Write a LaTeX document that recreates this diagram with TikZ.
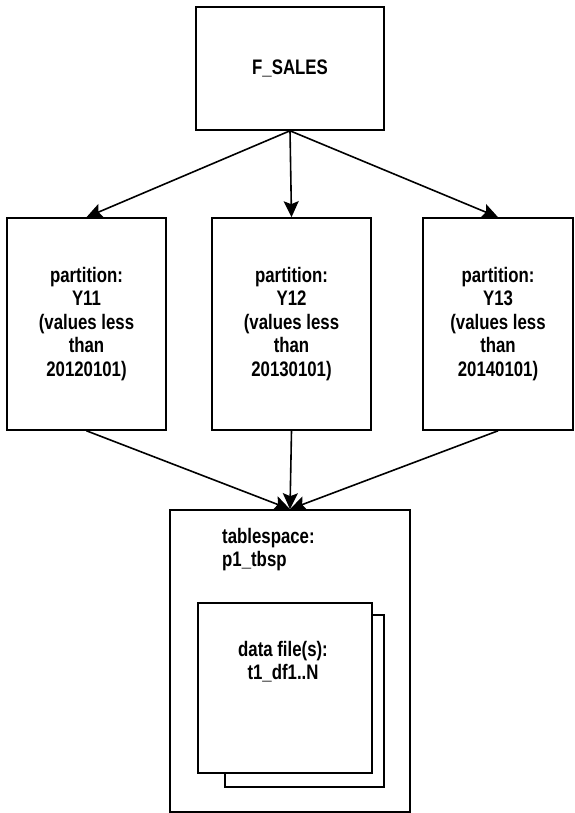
\documentclass[tikz,border=0pt]{standalone}
\usepackage{fontspec}
\setmainfont{Liberation Sans}[FakeStretch=0.8,UprightFont={* Bold}]
\usetikzlibrary{arrows.meta}
\begin{document}
\begin{tikzpicture}[x=1pt,y=-1pt,
  box/.style={draw, line width=1.6pt, inner sep=0pt, align=center,
    font=\fontsize{21}{23.5}\selectfont},
  txt/.style={inner sep=0pt, align=left, font=\fontsize{21}{23.5}\selectfont},
  arr/.style={-{Stealth[length=16pt,width=15pt,inset=3pt]}, line width=1.6pt}]
\useasboundingbox (0,0) rectangle (574,813);
\node[box, minimum width=188pt, minimum height=123pt] (fs) at (290,68.5) {F\_SALES};
\node[box, minimum width=159pt, minimum height=212pt] (p1) at (86.5,324) {partition:\\Y11\\(values less\\than\\20120101)};
\node[box, minimum width=159pt, minimum height=212pt] (p2) at (291.5,324) {partition:\\Y12\\(values less\\than\\20130101)};
\node[box, minimum width=150pt, minimum height=212pt] (p3) at (498,324) {partition:\\Y13\\(values less\\than\\20140101)};
\node[box, minimum width=240pt, minimum height=302pt] (tb) at (290,661) {};
\node[txt, anchor=north west] (tbt) at (222,528) {tablespace:\\p1\_tbsp};
\node[box, minimum width=159pt, minimum height=172pt] (bk) at (304.5,701) {};
\node[box, fill=white, minimum width=174pt, minimum height=170pt] (fr) at (285,688) {};
\node[txt, align=center, anchor=north] (frt) at (283,641) {data file(s):\\t1\_df1..N};
\draw[arr] (fs.south) -- (p1.north);
\draw[arr] (fs.south) -- (p2.north);
\draw[arr] (fs.south) -- (p3.north);
\draw[arr] (p1.south) -- (tb.north);
\draw[arr] (p2.south) -- (tb.north);
\draw[arr] (p3.south) -- (tb.north);
\end{tikzpicture}
\end{document}
